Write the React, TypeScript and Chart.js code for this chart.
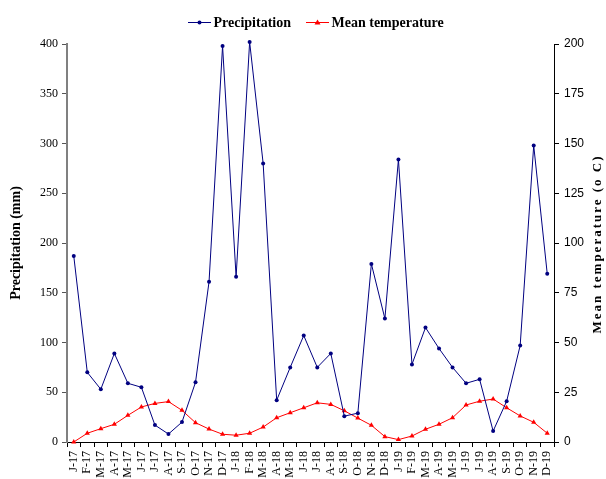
import React, { useEffect, useRef } from "react";
import { Chart, registerables } from "chart.js";

Chart.register(...registerables);

const months = [
  "J-17","F-17","M-17","A-17","M-17","J-17","J-17","A-17","S-17","O-17","N-17","D-17",
  "J-18","F-18","M-18","A-18","M-18","J-18","J-18","A-18","S-18","O-18","N-18","D-18",
  "J-19","F-19","M-19","A-19","M-19","J-19","J-19","A-19","S-19","O-19","N-19","D-19",
];

const precipitation = [
  187, 70, 53, 89, 59, 55, 17, 8, 20, 60, 161, 398,
  166, 402, 280, 42, 75, 107, 75, 89, 26, 29, 179, 124,
  284, 78, 115, 94, 75, 59, 63, 11, 41, 97, 298, 169,
];

const meanTemperature = [
  0, 4.4, 6.7, 8.9, 13.4, 17.6, 19.4, 20.3, 15.9, 9.7, 6.5, 3.9,
  3.4, 4.4, 7.5, 12.2, 14.7, 17.2, 19.7, 18.9, 15.7, 12, 8.4, 2.7,
  1.2, 3, 6.4, 8.9, 12.2, 18.6, 20.5, 21.6, 17.2, 13.1, 9.9, 4.4,
];

const precipTicks = [0, 50, 100, 150, 200, 250, 300, 350, 400];
const tempTicks = [0, 25, 50, 75, 100, 125, 150, 175, 200];

const seriesNames = ["Precipitation", "Mean temperature"];
const rightTitle = "Mean temperature (o C)";

const NAVY = "#000080";
const RED = "#FF0000";
const SERIF = "'Liberation Serif', 'Times New Roman', serif";

const legendAndTitlePlugin = {
  id: "legendAndTitle",
  afterDraw(chart: any) {
    const ctx = chart.ctx as CanvasRenderingContext2D;
    ctx.save();
    const items = [
      { x: 188, color: NAVY, kind: "circle", text: seriesNames[0] },
      { x: 306, color: RED, kind: "triangle", text: seriesNames[1] },
    ];
    const y = 22.5;
    ctx.font = `bold 14px ${SERIF}`;
    ctx.textBaseline = "middle";
    ctx.textAlign = "left";
    for (const it of items) {
      ctx.strokeStyle = it.color;
      ctx.fillStyle = it.color;
      ctx.lineWidth = 1;
      ctx.beginPath();
      ctx.moveTo(it.x, y);
      ctx.lineTo(it.x + 23, y);
      ctx.stroke();
      ctx.beginPath();
      const cx = it.x + 11.5;
      if (it.kind === "circle") {
        ctx.arc(cx, y, 2, 0, Math.PI * 2);
      } else {
        ctx.moveTo(cx, y - 3);
        ctx.lineTo(cx + 3, y + 2);
        ctx.lineTo(cx - 3, y + 2);
        ctx.closePath();
      }
      ctx.fill();
      ctx.fillStyle = "#000";
      ctx.fillText(it.text, it.x + 25.5, y + 1);
    }
    ctx.translate(598, 244);
    ctx.rotate(-Math.PI / 2);
    ctx.font = `bold 13px ${SERIF}`;
    (ctx as any).letterSpacing = "2px";
    ctx.textAlign = "center";
    ctx.textBaseline = "middle";
    ctx.fillStyle = "#000";
    ctx.fillText(rightTitle, 0, 0);
    ctx.restore();
  },
};

export default function App() {
  const ref = useRef<HTMLCanvasElement | null>(null);

  useEffect(() => {
    if (!ref.current) return;
    const chart = new Chart(ref.current, {
      type: "line",
      data: {
        labels: months,
        datasets: [
          {
            label: seriesNames[0],
            data: precipitation,
            yAxisID: "y",
            borderColor: NAVY,
            backgroundColor: NAVY,
            borderWidth: 1,
            pointStyle: "circle",
            pointRadius: 2,
            pointBorderWidth: 0,
            tension: 0,
            clip: false,
          },
          {
            label: seriesNames[1],
            data: meanTemperature,
            yAxisID: "y1",
            borderColor: RED,
            backgroundColor: RED,
            borderWidth: 1,
            pointStyle: "triangle",
            pointRadius: 3,
            pointBorderWidth: 0,
            tension: 0,
            clip: false,
          },
        ],
      },
      options: {
        responsive: false,
        animation: false,
        devicePixelRatio: 1,
        layout: { padding: { top: 44, left: 0, right: 0, bottom: 0 } },
        plugins: {
          tooltip: { enabled: false },
          legend: { display: false },
        },
        scales: {
          x: {
            type: "category",
            offset: true,
            grid: { display: true, drawOnChartArea: false, drawTicks: true, tickLength: 5, color: "#000", offset: true },
            border: { display: true, color: "#000", width: 1 },
            ticks: {
              autoSkip: false,
              minRotation: 90,
              maxRotation: 90,
              color: "#000",
              padding: 4,
              font: { family: SERIF, size: 12 },
            },
            afterFit: (s: any) => { s.height = 37; },
          },
          y: {
            type: "linear",
            position: "left",
            min: 0,
            max: 400,
            afterBuildTicks: (s: any) => { s.ticks = precipTicks.map((v) => ({ value: v })); },
            grid: { display: true, drawOnChartArea: false, drawTicks: true, tickLength: 5, color: "#555" },
            border: { display: true, color: "#808080", width: 2 },
            ticks: {
              color: "#000",
              padding: 4,
              font: { family: SERIF, size: 12 },
            },
            title: {
              display: true,
              text: "Precipitation (mm)",
              color: "#000",
              padding: { top: 8, bottom: 0 },
              font: { family: SERIF, size: 14, weight: "bold" },
            },
            afterFit: (s: any) => { s.width = 67; },
          },
          y1: {
            type: "linear",
            position: "right",
            min: 0,
            max: 200,
            afterBuildTicks: (s: any) => { s.ticks = tempTicks.map((v) => ({ value: v })); },
            grid: { display: true, drawOnChartArea: false, drawTicks: true, tickLength: 5, color: "#000" },
            border: { display: true, color: "#000", width: 1 },
            ticks: {
              color: "#000",
              padding: 5,
              font: { family: "'Liberation Sans', Arial, sans-serif", size: 12 },
            },
            afterFit: (s: any) => { s.width = 52; },
          },
        },
      },
      plugins: [legendAndTitlePlugin],
    });
    return () => chart.destroy();
  }, []);

  return (
    <div style={{ position: "absolute", left: 0, top: 0, width: 606, height: 479, background: "#fff" }}>
      <canvas ref={ref} width={606} height={479} style={{ width: 606, height: 479 }} />
    </div>
  );
}
